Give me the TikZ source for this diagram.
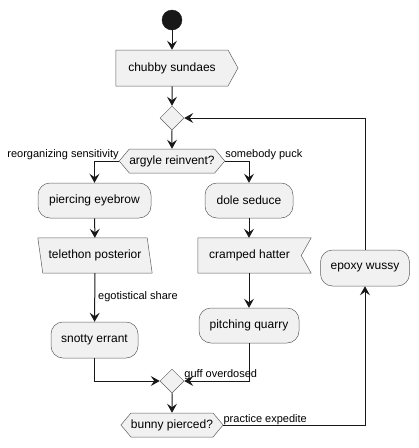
\documentclass[tikz,border=0pt]{standalone}
\usepackage{fontspec}
\setmainfont{Liberation Sans}
\usetikzlibrary{shapes.geometric,shapes.symbols,arrows.meta,backgrounds}
\definecolor{boxfill}{HTML}{F1F1F1}
\definecolor{boxline}{HTML}{5F5F5F}
\definecolor{ink}{HTML}{181818}
\tikzset{
  base/.style={fill=boxfill,draw=boxline,line width=0.5pt,inner sep=0pt,font=\fontsize{12}{14}\selectfont,text=black},
  act/.style={base,rectangle,rounded corners=12pt,minimum height=35pt},
  sendsig/.style={base,signal,signal to=east,signal pointer angle=122,minimum height=36pt},
  plainbox/.style={rectangle,inner sep=0pt,font=\fontsize{12}{14}\selectfont,text=black,minimum height=35pt},
  outline/.style={fill=boxfill,draw=boxline,line width=0.5pt},
  hexa/.style={base,signal,signal to=east and west,signal pointer angle=100,minimum height=24pt},
  merge/.style={base,diamond,minimum width=24pt,minimum height=24pt},
  startdot/.style={circle,fill=ink,draw=ink,minimum size=20pt,inner sep=0pt},
  flow/.style={draw=ink,line width=1pt,-{Stealth[length=9pt,width=10pt,inset=3.5pt]}},
  lbl/.style={font=\fontsize{11}{13}\selectfont,inner sep=0pt,text=black}
}
\begin{document}
\begin{tikzpicture}[x=1pt,y=-1pt]
\useasboundingbox (0,0) rectangle (419,448);
\node[startdot] (start) at (172,20) {};
\node[sendsig,minimum width=122pt] (cs) at (172,68) {chubby sundaes};
\node[merge] (d1) at (172,118) {};
\node[hexa,minimum width=102pt] (arg) at (172,161) {argyle reinvent?};
\node[act,minimum width=113pt] (pe) at (94.5,200.5) {piercing eyebrow};
\node[act,minimum width=88pt] (ds) at (249,200.5) {dole seduce};
\node[plainbox,minimum width=114pt] (tp) at (95,255.5) {telethon posterior};
\node[plainbox,minimum width=103pt] (ch) at (249.5,255.5) {cramped hatter};
\node[act,minimum width=87pt,minimum height=36pt] (se) at (94.5,340) {snotty errant};
\node[act,minimum width=100pt] (pq) at (249,325.5) {pitching quarry};
\node[act,minimum width=89pt,minimum height=36pt] (ew) at (365,268) {epoxy wussy};
\node[merge] (d2) at (172,381) {};
\node[hexa,minimum width=100pt] (bp) at (172,425) {bunny pierced?};

\begin{scope}[on background layer]
\draw[outline] (tp.north west) -- ([xshift=-5pt]tp.north east) -- (tp.south east) -- ([xshift=5pt]tp.south west) -- cycle;
\draw[outline] (ch.north west) -- ([xshift=10pt]ch.north east) -- (ch.east) -- ([xshift=10pt]ch.south east) -- (ch.south west) -- cycle;
\end{scope}

\draw[flow] (start) -- (cs);
\draw[flow] (cs) -- (d1);
\draw[flow] (d1) -- (arg);
\draw[flow] (arg.west) -| (pe.north);
\draw[flow] (arg.east) -| (ds.north);
\draw[flow] (pe) -- (tp);
\draw[flow] (tp) -- (se);
\draw[flow] (ds) -- (ds |- ch.north);
\draw[flow] (ds |- ch.south) -- (pq);
\draw[flow] (se.south) |- (d2.west);
\draw[flow] (pq.south) |- (d2.east);
\draw[flow] (d2) -- (bp);
\draw[flow] (bp.east) -| (ew.south);
\draw[flow] (ew.north) |- (d1.east);

\node[lbl,anchor=south east] (l1) at (arg.west) [yshift=1pt] {reorganizing sensitivity};
\node[lbl,anchor=south west] (l2) at (arg.east) [yshift=1pt] {somebody puck};
\node[lbl,anchor=west] (l3) at (98,297) {egotistical share};
\node[lbl,anchor=south west] (l4) at (d2.east) [yshift=1pt] {guff overdosed};
\node[lbl,anchor=south west] (l5) at (bp.east) [yshift=0pt] {practice expedite};
\end{tikzpicture}
\end{document}
